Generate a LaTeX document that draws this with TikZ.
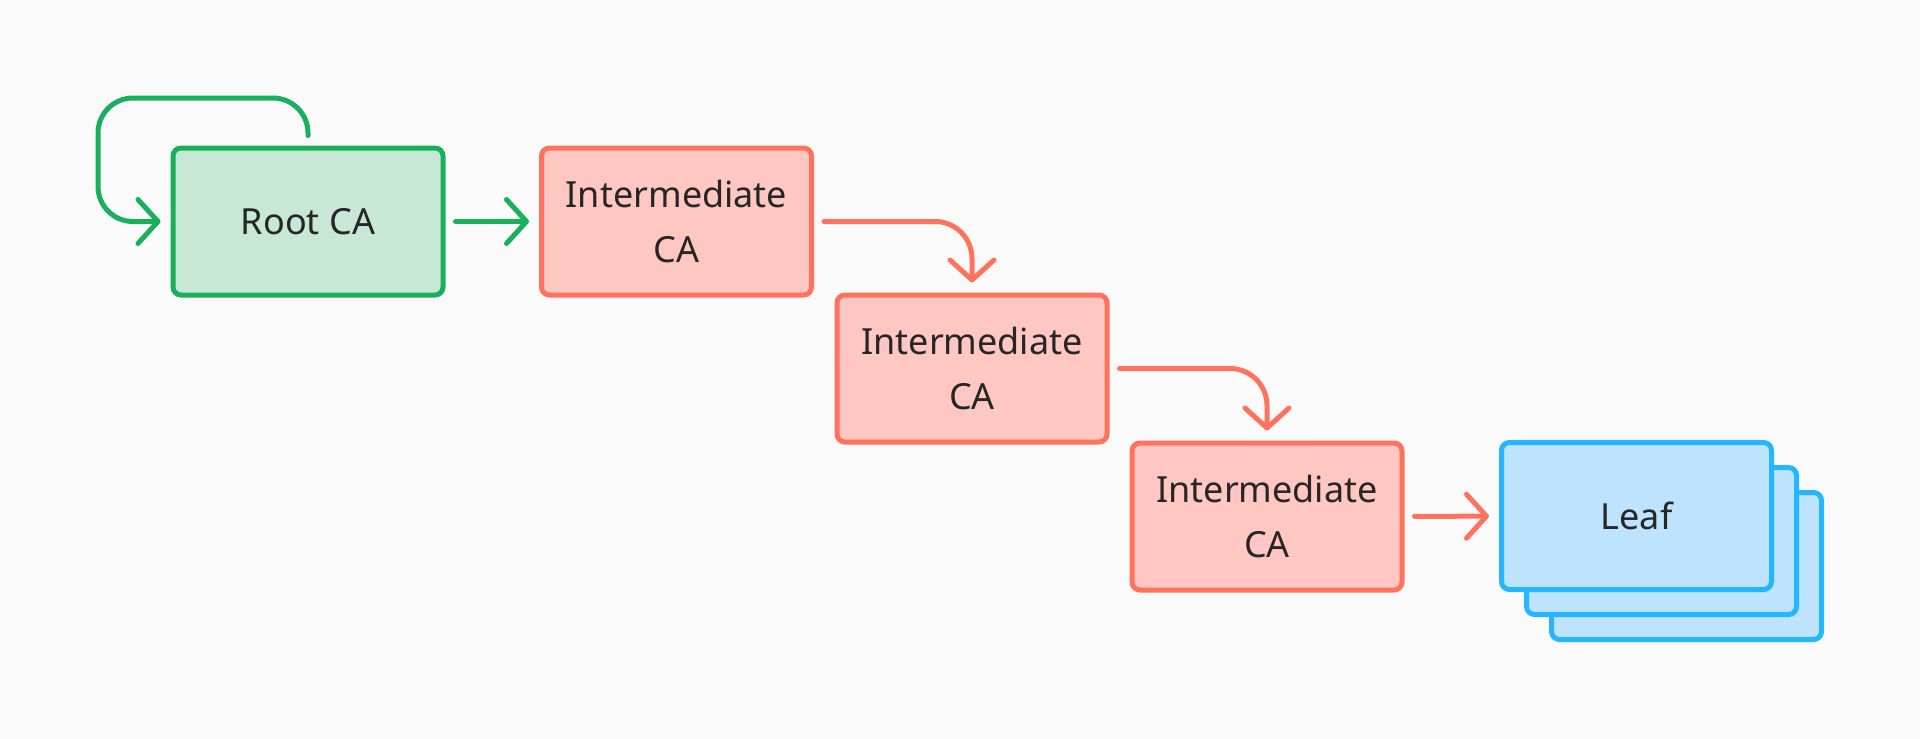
\documentclass[tikz,border=0pt]{standalone}
\usepackage{fontspec}
\setmainfont{Noto Sans}
\usetikzlibrary{arrows.meta,calc}
\definecolor{bg}{HTML}{FAFAFA}
\definecolor{gstroke}{HTML}{1AAF5D}
\definecolor{gfill}{HTML}{C7E8D6}
\definecolor{rstroke}{HTML}{FF735E}
\definecolor{rfill}{HTML}{FFC7C2}
\definecolor{bstroke}{HTML}{24B6FF}
\definecolor{bfill}{HTML}{BDE3FF}
\definecolor{txt}{HTML}{262626}
\begin{document}
\begin{tikzpicture}[x=1pt,y=-1pt,
  box/.style={draw, line width=5pt, rounded corners=8pt, minimum width=270pt,
    minimum height=147pt, inner sep=0pt, text=txt, align=center,
    font=\fontsize{36}{55}\selectfont},
  rootbox/.style={box, draw=gstroke, fill=gfill},
  interbox/.style={box, draw=rstroke, fill=rfill},
  leafbox/.style={box, draw=bstroke, fill=bfill},
  arr/.style={line width=5pt, line cap=round,
    -{Straight Barb[length=20pt, width=44pt, round]}},
  garr/.style={arr, draw=gstroke},
  rarr/.style={arr, draw=rstroke}]
\fill[bg] (0,0) rectangle (1920,739);
\useasboundingbox (0,0) rectangle (1920,739);
\node[rootbox] (root) at (308,221.5) {Root CA};
\node[interbox] (int1) at (676.5,221.5) {Intermediate\\CA};
\node[interbox] (int2) at (972,368.5) {Intermediate\\CA};
\node[interbox] (int3) at (1267,516.5) {Intermediate\\CA};
\node[leafbox] (leaf3) at (1686.5,566) {};
\node[leafbox] (leaf2) at (1661.5,541) {};
\node[leafbox] (leaf) at (1636.5,516) {Leaf};
\draw[garr, rounded corners=35pt] ($(root.north)+(0,-10)$) |- (98,98) |- ($(root.west)+(-10,0)$);
\draw[garr, shorten <=10pt, shorten >=10pt] (root) -- (int1);
\draw[rarr, rounded corners=37pt] ($(int1.east)+(10,0)$) -| ($(int2.north)+(0,-10)$);
\draw[rarr, rounded corners=37pt] ($(int2.east)+(10,0)$) -| ($(int3.north)+(0,-10)$);
\draw[rarr, shorten <=10pt, shorten >=10pt] (int3) -- (leaf);
\end{tikzpicture}
\end{document}
